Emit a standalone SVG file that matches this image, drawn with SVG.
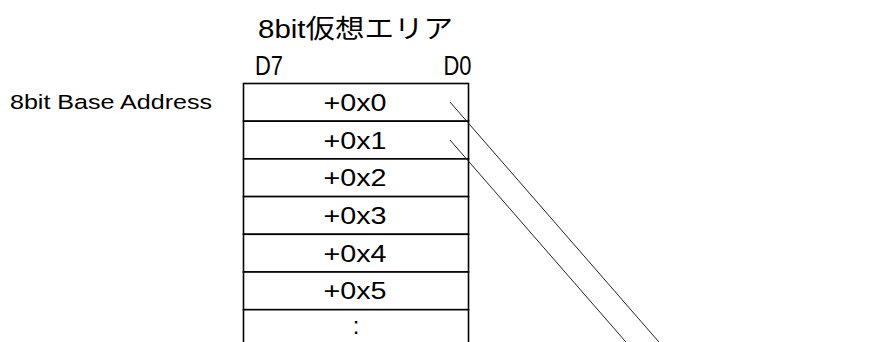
<svg xmlns="http://www.w3.org/2000/svg" width="875" height="342" viewBox="0 0 875 342">
<style>
.t{font-family:"Liberation Sans","Noto Sans CJK JP",sans-serif;fill:#000}
.cell{fill:#fff;stroke:#000;stroke-width:1.6}
.lbl{font-size:24px}
.conn{stroke:#222;stroke-width:1;fill:none}
</style>
<rect width="875" height="342" fill="#fff"/>
<g id="title">
<text class="t" x="258" y="37.5" font-size="26" textLength="195" lengthAdjust="spacingAndGlyphs">8bit仮想エリア</text>
</g>
<g id="bits">
<text class="t" x="255" y="75" font-size="27.5" textLength="28" lengthAdjust="spacingAndGlyphs">D7</text>
<text class="t" x="443.5" y="75" font-size="27.5" textLength="28" lengthAdjust="spacingAndGlyphs">D0</text>
</g>
<g id="base-label">
<text class="t" x="10" y="109" font-size="20.5" textLength="202" lengthAdjust="spacingAndGlyphs">8bit Base Address</text>
</g>
<g id="row0"><rect class="cell" x="243.5" y="83.5" width="225" height="37.7"/><text class="t lbl" x="323.5" y="111" textLength="63" lengthAdjust="spacingAndGlyphs">+0x0</text></g>
<g id="row1"><rect class="cell" x="243.5" y="121.2" width="225" height="37.7"/><text class="t lbl" x="323.5" y="148.5" textLength="63" lengthAdjust="spacingAndGlyphs">+0x1</text></g>
<g id="row2"><rect class="cell" x="243.5" y="158.9" width="225" height="37.7"/><text class="t lbl" x="323.5" y="186.3" textLength="63" lengthAdjust="spacingAndGlyphs">+0x2</text></g>
<g id="row3"><rect class="cell" x="243.5" y="196.6" width="225" height="37.7"/><text class="t lbl" x="323.5" y="224" textLength="63" lengthAdjust="spacingAndGlyphs">+0x3</text></g>
<g id="row4"><rect class="cell" x="243.5" y="234.3" width="225" height="37.7"/><text class="t lbl" x="323.5" y="261.7" textLength="63" lengthAdjust="spacingAndGlyphs">+0x4</text></g>
<g id="row5"><rect class="cell" x="243.5" y="272" width="225" height="37.7"/><text class="t lbl" x="323.5" y="299.4" textLength="63" lengthAdjust="spacingAndGlyphs">+0x5</text></g>
<g id="row6"><rect class="cell" x="243.5" y="309.7" width="225" height="50"/><text class="t lbl" x="356" y="334" text-anchor="middle">:</text></g>
<g id="connectors">
<line class="conn" x1="450" y1="102" x2="665" y2="349"/>
<line class="conn" x1="450" y1="140" x2="632" y2="349"/>
</g>
</svg>
